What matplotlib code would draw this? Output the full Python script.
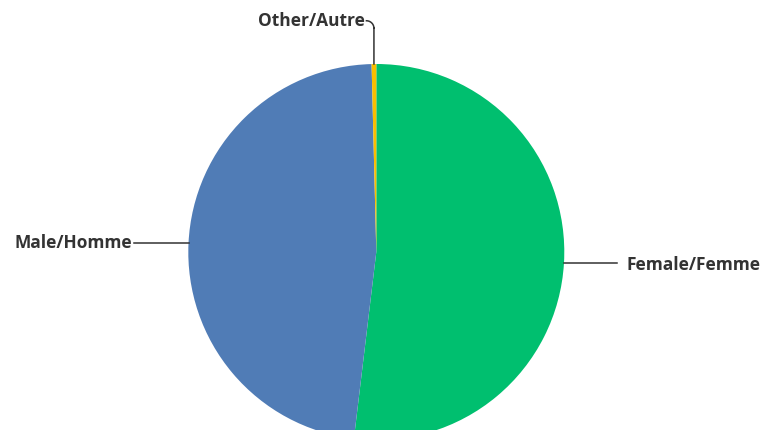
import numpy as np
import matplotlib.pyplot as plt

labels = ["Female/Femme", "Male/Homme", "Other/Autre"]
shares = [51.9, 47.7, 0.4]
colors = ["#00BF6F", "#507CB6", "#F9BE00"]

plt.rcParams['font.family'] = ['Open Sans', 'DejaVu Sans']

W, H = 767, 430
fig = plt.figure(figsize=(W / 100, H / 100), dpi=100)

# pie centre and radius in pixels
cx, cy, r = 376.3, 252, 188
ax = fig.add_axes([(cx - r) / W, (H - cy - r) / H, 2 * r / W, 2 * r / H])

wedges, _ = ax.pie(shares, colors=colors, startangle=90, counterclock=False,
                   radius=1, wedgeprops=dict(linewidth=0))
for w in wedges:
    w.set_clip_on(False)
# pie() widens the limits, put them back so radius 1 fills the axes
ax.set_xlim(-1, 1)
ax.set_ylim(-1, 1)
ax.set_aspect("equal")
ax.axis("off")

line_kw = dict(color="#333333", lw=1.1, clip_on=False)
text_kw = dict(fontsize=12.5, fontweight="bold", color="#333333", va="center")

for w, lab in zip(wedges, labels):
    mid = np.deg2rad((w.theta1 + w.theta2) / 2)
    x0, y0 = np.cos(mid), np.sin(mid)
    if lab.startswith("Other"):
        # leader goes straight up then bends to the label
        ys = np.linspace(y0, 1.19, 20)
        t = np.linspace(0, np.pi / 2, 15)
        bx = x0 - 0.04 * (1 - np.cos(t))
        by = 1.19 + 0.04 * np.sin(t)
        ax.plot(np.r_[np.full_like(ys, x0), bx], np.r_[ys, by], **line_kw)
        ax.text(bx[-1] - 0.01, by[-1], lab, ha="right", **text_kw)
    elif x0 < 0:
        ax.plot([x0, x0 - 0.29], [y0, y0], **line_kw)
        ax.text(x0 - 0.30, y0, lab, ha="right", **text_kw)
    else:
        ax.plot([x0, x0 + 0.28], [y0, y0], **line_kw)
        ax.text(x0 + 0.335, y0 - 0.01, lab, ha="left", **text_kw)

fig.savefig("out.png", dpi=100)
